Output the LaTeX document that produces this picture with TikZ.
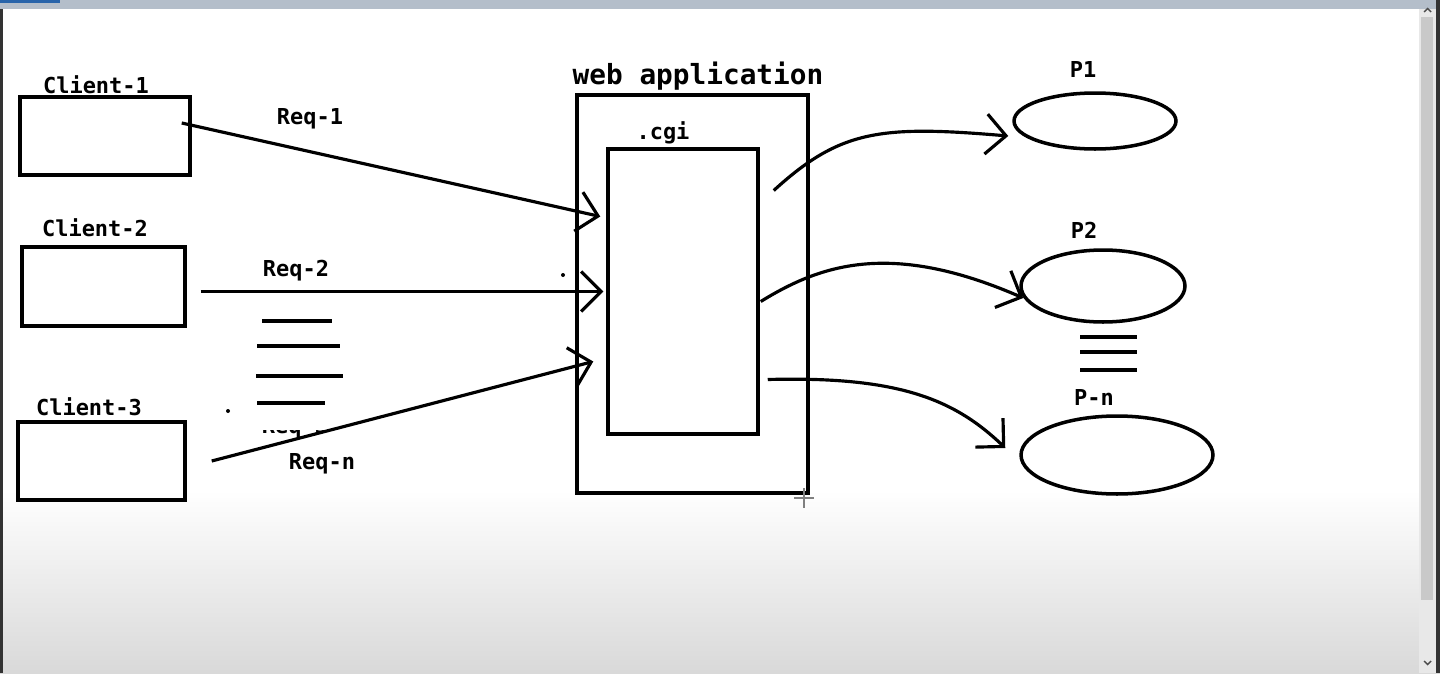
\documentclass[tikz,border=0pt]{standalone}
\usepackage{fontspec}
\setmonofont{DejaVu Sans Mono}
\usetikzlibrary{arrows.meta,shapes.geometric,calc}
\definecolor{barfg}{RGB}{180,190,202}
\definecolor{tabfg}{RGB}{40,100,170}

\begin{document}
\begin{tikzpicture}[x=0.02cm,y=-0.02cm,
    box/.style={draw,line width=2pt,inner sep=0pt},
    proc/.style={draw,ellipse,line width=2pt,inner sep=0pt},
    lbl/.style={font=\fontsize{12.5}{14}\ttfamily\bfseries},
    req/.style={->,line width=1.8pt,line join=round},
    gap/.style={line width=2pt},
    >={Straight Barb[length=0.4cm,width=0.8cm]}]

    % window around the drawing
    \useasboundingbox (0,0) rectangle (1440,673);
    \fill[white] (0,0) rectangle (1440,673);
    \shade[top color=white,bottom color=gray!30] (0,490) rectangle (1440,673);
    \fill[barfg] (0,0) rectangle (1440,9);
    \fill[tabfg] (0,0) rectangle (60,3);
    \fill[black!80] (0,9) rectangle (3,673);
    \fill[gray!18] (1419,9) rectangle (1436,673);
    \fill[gray!42] (1421,17) rectangle (1433,600);
    \fill[black!80] (1436,0) rectangle (1440,673);
    \draw[black!70,line width=0.8pt] (1424,12) -- (1427.5,8.5) -- (1431,12);
    \draw[black!70,line width=0.8pt] (1424,661) -- (1427.5,664.5) -- (1431,661);

    % clients
    \node[box,minimum width=3.4cm,minimum height=1.56cm] (c1) at (105,136) {};
    \node[lbl] (c1l) at (96,85) {Client-1};
    \node[box,minimum width=3.26cm,minimum height=1.58cm] (c2) at (103.5,286.5) {};
    \node[lbl] (c2l) at (95,228) {Client-2};
    \node[box,minimum width=3.34cm,minimum height=1.56cm] (c3) at (101.5,461) {};
    \node[lbl] (c3l) at (89,407) {Client-3};

    % web application with the .cgi program
    \node[box,minimum width=4.62cm,minimum height=7.96cm] (web) at (692.5,294) {};
    \node[font=\fontsize{15.8}{18}\ttfamily\bfseries] (webl) at (698,76) {web application};
    \node[box,minimum width=3cm,minimum height=5.7cm] (cgi) at (683,291.5) {};
    \node[lbl] (cgil) at (663,133) {.cgi};

    % processes
    \node[proc,minimum width=3.24cm,minimum height=1.12cm] (p1) at (1095,121) {};
    \node[lbl] (p1l) at (1083,69) {P1};
    \node[proc,minimum width=3.28cm,minimum height=1.44cm] (p2) at (1103,286) {};
    \node[lbl] (p2l) at (1084,230) {P2};
    \node[proc,minimum width=3.84cm,minimum height=1.56cm] (pn) at (1117,455) {};
    \node[lbl] (pnl) at (1094,397) {P-n};

    % requests
    \draw[req] ($(c1.east)+(-10,-13)$) -- ($(cgi.west)+(-6,-75)$);
    \node[lbl] (r1) at (310,119) {Req-1};
    \draw[req] ($(c2.east)+(14,5)$) -- ($(cgi.west)+(-3,0)$);
    \node[lbl] (r2) at (296,271) {Req-2};
    \foreach \y/\a/\b in {321/262/332, 346/257/340, 376/256/343, 403/257/325}
        \draw[gap] (\a,\y) -- (\b,\y);
    \begin{scope}
        \clip (250,430) rectangle (340,446);
        \node[lbl] (r3) at (295,428) {Req-3};
    \end{scope}
    \draw[req] ($(c3.east)+(25,0)$) -- ($(cgi.west)+(-13,70)$);
    \node[lbl] (rn) at (322,464) {Req-n};

    % cgi starts the processes
    \draw[req] ($(cgi.east)+(14,-101)$) .. controls (840,130) and (880,125) .. ($(p1.west)+(-4,15)$);
    \draw[req] ($(cgi.east)+(1,10)$) .. controls (820,265) and (890,240) .. ($(p2.west)+(4,12)$);
    \draw[req] ($(cgi.east)+(8,88)$) .. controls (900,376) and (955,400) .. ($(pn.west)+(-14,-7)$);
    \foreach \y in {337,352,370}
        \draw[gap] (1080,\y) -- (1137,\y);

    % stray marks
    \fill (563,275) circle (2);
    \fill (228,411) circle (2);
    \draw[gray,line width=0.8pt] (794,498) -- (814,498) (804,488) -- (804,508);
\end{tikzpicture}
\end{document}
